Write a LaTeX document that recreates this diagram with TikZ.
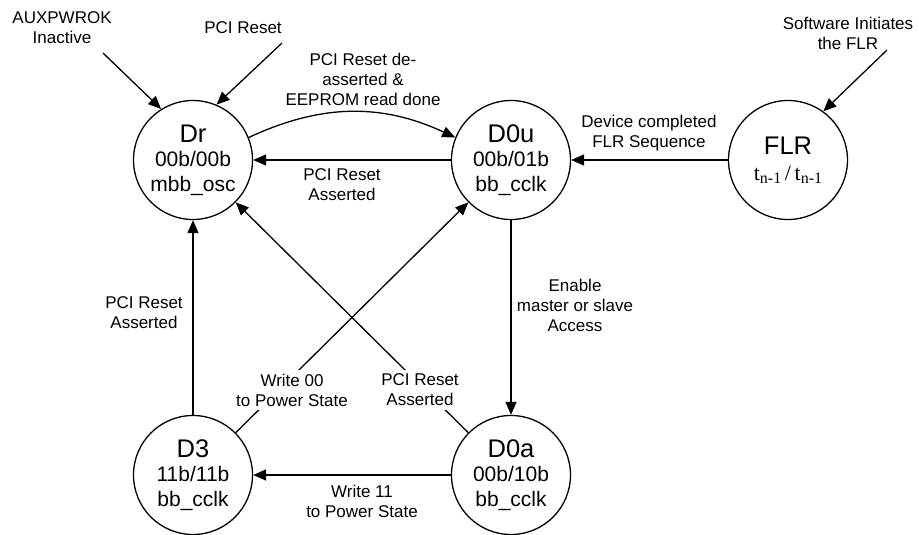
\documentclass[tikz,border=0pt]{standalone}
\usepackage{fontspec}
\setmainfont{Liberation Sans}
\newfontfamily\timesfont{Liberation Serif}
\usetikzlibrary{arrows.meta}

% big state name on the first line of a state circle
\newcommand{\stname}[1]{{\fontsize{25.5}{29}\selectfont #1}}
% t_{n-1} in serif type
\newcommand{\tsub}{t\raisebox{-3pt}{\fontsize{16}{16}\selectfont n-1}}

\begin{document}
\begin{tikzpicture}[x=1pt, y=-1pt, line width=1.3pt,
  state/.style={circle, draw, minimum size=119pt, inner sep=0pt,
    align=center, font=\fontsize{21}{24.5}\selectfont},
  lbl/.style={align=center, inner sep=3pt,
    font=\fontsize{17}{20}\selectfont},
  gap/.style={lbl, fill=white, inner sep=4pt},
  arr/.style={-{Triangle[length=13pt, width=11pt]}}]
\useasboundingbox (0,0) rectangle (919,535);

% states
\node[state] (Dr)  at (193,160) {\stname{Dr}\\00b/00b\\mbb\_osc};
\node[state] (D0u) at (511,160) {\stname{D0u}\\00b/01b\\bb\_cclk};
\node[state] (FLR) at (788,160) {\stname{FLR}\\[2pt]{\timesfont\fontsize{22}{24}\selectfont\tsub\,/\,\tsub}};
\node[state] (D3)  at (193,475) {\stname{D3}\\11b/11b\\bb\_cclk};
\node[state] (D0a) at (511,475) {\stname{D0a}\\00b/10b\\bb\_cclk};

% free ends of the entry arrows
\coordinate (auxin) at (103,53);
\coordinate (rstin) at (282,43);
\coordinate (swin)  at (887,50);

% transitions
\draw[arr] (auxin) -- (Dr.122);
\draw[arr] (rstin) -- (Dr.67);
\draw[arr] (swin) -- (FLR.54);
\draw[arr] (Dr.22) to[out=25, in=155] (D0u.158);
\draw[arr] (D0u) -- (Dr);
\draw[arr] (FLR) -- (D0u);
\draw[arr] (D0u) -- (D0a);
\draw[arr] (D0a) -- (D3);
\draw[arr] (D3) -- (Dr);
\draw[arr] (D3) -- (D0u);
\draw[arr] (D0a) -- (Dr);

% labels
\node[lbl] (lAux)  at (62,28)   {AUXPWROK\\Inactive};
\node[lbl] (lRst)  at (243,28)  {PCI Reset};
\node[lbl] (lEep)  at (363,79)  {PCI Reset de-\\asserted \&\\EEPROM read done};
\node[lbl] (lBack) at (342,185) {PCI Reset\\Asserted};
\node[lbl] (lDone) at (649,133) {Device completed\\FLR Sequence};
\node[lbl] (lSw)   at (848,33)  {Software Initiates\\the FLR};
\node[lbl] (lD3)   at (144,313) {PCI Reset\\Asserted};
\node[gap] (lW00)  at (292,390) {Write 00\\to Power State};
\node[gap] (lD0a)  at (420,390) {PCI Reset\\Asserted};
\node[lbl] (lW11)  at (362,501) {Write 11\\to Power State};
\node[lbl] (lEn)   at (575,305) {Enable\\master or slave\\Access};
\end{tikzpicture}
\end{document}
